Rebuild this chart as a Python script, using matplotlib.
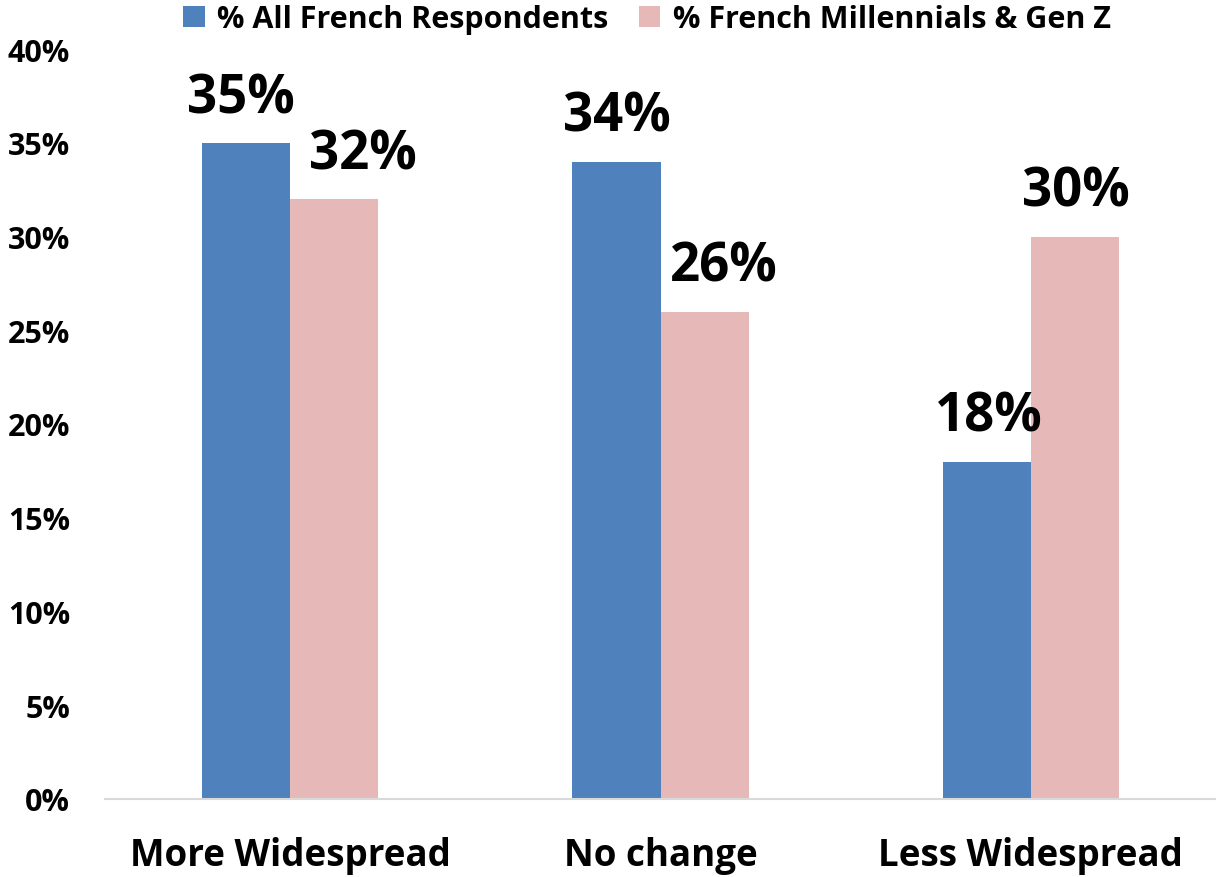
import numpy as np
import matplotlib
matplotlib.use("Agg")
from matplotlib import pyplot as plt

categories = ["More Widespread", "No change", "Less Widespread"]
all_french = [35, 34, 18]
young_french = [32, 26, 30]
series_names = ["% All French Respondents", "% French Millennials & Gen Z"]
y_ticks = [0, 5, 10, 15, 20, 25, 30, 35, 40]

plt.rcParams['font.family'] = ['Open Sans', 'DejaVu Sans']
plt.rcParams['font.weight'] = 'bold'

blue = "#4F81BD"
pink = "#E6B9B8"
width = 0.238

fig = plt.figure(figsize=(12.16, 8.78), dpi=100)
ax = fig.add_axes([105 / 1216, 1 - 800 / 878, 1111 / 1216, 750 / 878])

x = np.arange(len(categories))
b1 = ax.bar(x - width / 2, all_french, width, color=blue, label=series_names[0])
b2 = ax.bar(x + width / 2, young_french, width, color=pink, label=series_names[1])

# data labels; first pink label sits a bit to the right in the original
for bars, vals, shifts in [(b1, all_french, [-5, 0, 2]), (b2, young_french, [29, 19, 1])]:
    for bar, v, dx in zip(bars, vals, shifts):
        ax.annotate(f"{v}%", (bar.get_x() + bar.get_width() / 2, v),
                    xytext=(dx * 0.72, 22), textcoords="offset points",
                    ha="center", va="baseline", fontsize=38, fontweight="bold")

ax.set_xlim(-0.5, 2.5)
ax.set_ylim(0, 40)
ax.set_yticks(y_ticks)
ax.set_yticklabels([f"{t}%" for t in y_ticks], fontsize=22, fontweight="bold")
ax.tick_params(axis="both", length=0)
ax.set_xticks(x)
ax.set_xticklabels(categories, fontsize=26.5, fontweight="bold")
ax.tick_params(axis="y", pad=25)
ax.tick_params(axis="x", pad=27)
for side in ["top", "right", "left"]:
    ax.spines[side].set_visible(False)
ax.spines["bottom"].set_color("#D9D9D9")
ax.spines["bottom"].set_linewidth(1.5)

fig.legend(loc="center", bbox_to_anchor=(647 / 1216, 1 - 20 / 878), ncol=2, frameon=False,
           handlelength=0.7, handleheight=0.7, handletextpad=0.4,
           columnspacing=1.0, borderpad=0, prop={'weight': 'bold', 'size': 22})

fig.savefig("out.png", dpi=100)
